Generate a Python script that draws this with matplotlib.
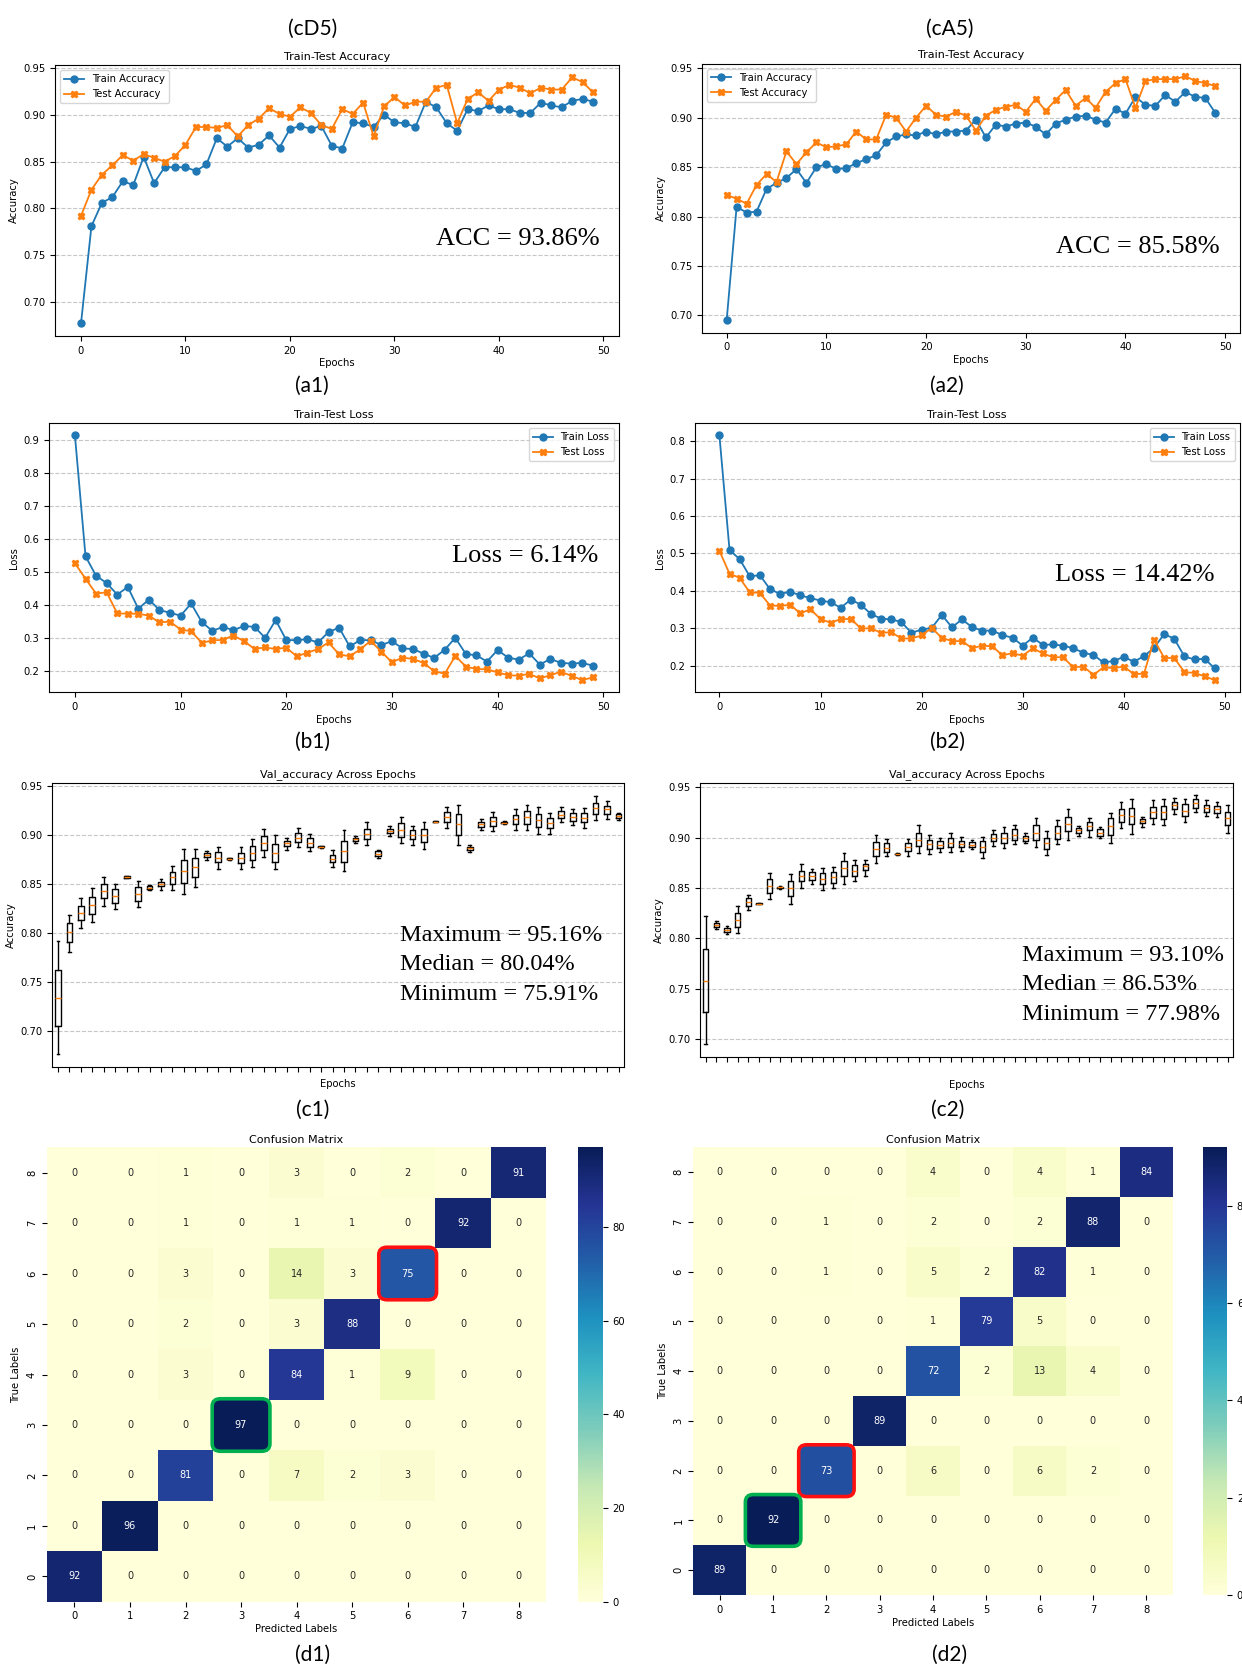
import numpy as np
import matplotlib
matplotlib.use('Agg')
import matplotlib.pyplot as plt
import seaborn as sns
from matplotlib.patches import FancyBboxPatch

# ---- data ----
acc_train_d5 = [0.677, 0.781, 0.806, 0.812, 0.829, 0.825, 0.855, 0.827, 0.844, 0.844,
                0.844, 0.840, 0.847, 0.875, 0.866, 0.875, 0.865, 0.868, 0.878, 0.865,
                0.885, 0.888, 0.885, 0.888, 0.867, 0.864, 0.892, 0.891, 0.887, 0.900,
                0.892, 0.891, 0.887, 0.914, 0.908, 0.891, 0.883, 0.906, 0.904, 0.910,
                0.906, 0.906, 0.902, 0.902, 0.913, 0.910, 0.908, 0.915, 0.917, 0.914]
acc_test_d5 = [0.792, 0.820, 0.836, 0.846, 0.857, 0.851, 0.858, 0.854, 0.850, 0.856,
               0.868, 0.887, 0.887, 0.886, 0.889, 0.877, 0.889, 0.896, 0.907, 0.901,
               0.898, 0.908, 0.902, 0.889, 0.885, 0.906, 0.901, 0.913, 0.877, 0.909,
               0.919, 0.910, 0.914, 0.914, 0.929, 0.932, 0.891, 0.917, 0.924, 0.915,
               0.927, 0.932, 0.929, 0.923, 0.929, 0.927, 0.927, 0.940, 0.935, 0.924]
acc_train_a5 = [0.695, 0.810, 0.804, 0.805, 0.828, 0.834, 0.839, 0.848, 0.834, 0.850,
                0.853, 0.848, 0.849, 0.854, 0.858, 0.862, 0.875, 0.881, 0.883, 0.882,
                0.886, 0.883, 0.886, 0.886, 0.887, 0.898, 0.880, 0.893, 0.891, 0.894,
                0.895, 0.891, 0.883, 0.894, 0.898, 0.901, 0.902, 0.898, 0.895, 0.909,
                0.904, 0.921, 0.913, 0.912, 0.923, 0.916, 0.926, 0.921, 0.920, 0.905]
acc_test_a5 = [0.822, 0.818, 0.813, 0.832, 0.843, 0.835, 0.866, 0.853, 0.865, 0.875,
               0.870, 0.871, 0.873, 0.886, 0.878, 0.878, 0.903, 0.900, 0.886, 0.900,
               0.912, 0.903, 0.901, 0.906, 0.902, 0.887, 0.902, 0.908, 0.911, 0.913,
               0.906, 0.919, 0.907, 0.918, 0.928, 0.912, 0.920, 0.910, 0.926, 0.935,
               0.939, 0.910, 0.937, 0.939, 0.939, 0.939, 0.942, 0.937, 0.935, 0.932]

loss_train_d5 = [0.913, 0.547, 0.488, 0.466, 0.431, 0.454, 0.388, 0.416, 0.384, 0.376,
                 0.367, 0.404, 0.348, 0.321, 0.333, 0.323, 0.336, 0.333, 0.300, 0.354,
                 0.293, 0.293, 0.296, 0.286, 0.317, 0.331, 0.274, 0.293, 0.293, 0.278,
                 0.290, 0.268, 0.266, 0.252, 0.239, 0.264, 0.300, 0.251, 0.247, 0.228,
                 0.263, 0.240, 0.234, 0.253, 0.219, 0.236, 0.224, 0.222, 0.224, 0.216]
loss_test_d5 = [0.526, 0.479, 0.434, 0.438, 0.374, 0.373, 0.373, 0.367, 0.347, 0.349,
                0.325, 0.320, 0.285, 0.292, 0.294, 0.307, 0.290, 0.266, 0.271, 0.266,
                0.270, 0.244, 0.255, 0.266, 0.286, 0.250, 0.244, 0.265, 0.291, 0.258,
                0.226, 0.240, 0.236, 0.224, 0.199, 0.191, 0.245, 0.213, 0.205, 0.205,
                0.195, 0.187, 0.185, 0.191, 0.177, 0.187, 0.197, 0.185, 0.172, 0.180]
loss_train_a5 = [0.815, 0.509, 0.485, 0.439, 0.442, 0.405, 0.392, 0.398, 0.388, 0.381,
                 0.374, 0.370, 0.355, 0.377, 0.363, 0.338, 0.326, 0.324, 0.317, 0.288,
                 0.297, 0.301, 0.336, 0.303, 0.324, 0.303, 0.294, 0.294, 0.282, 0.275,
                 0.254, 0.275, 0.256, 0.257, 0.254, 0.247, 0.235, 0.229, 0.209, 0.213,
                 0.224, 0.211, 0.226, 0.248, 0.285, 0.272, 0.225, 0.217, 0.219, 0.193]
loss_test_a5 = [0.507, 0.446, 0.435, 0.396, 0.395, 0.361, 0.360, 0.363, 0.340, 0.351,
                0.325, 0.315, 0.325, 0.325, 0.300, 0.300, 0.288, 0.290, 0.273, 0.273,
                0.281, 0.301, 0.275, 0.266, 0.266, 0.247, 0.254, 0.252, 0.228, 0.234,
                0.227, 0.247, 0.233, 0.223, 0.223, 0.196, 0.198, 0.176, 0.196, 0.194,
                0.198, 0.178, 0.179, 0.270, 0.221, 0.221, 0.183, 0.181, 0.172, 0.162]

# box plot statistics per epoch (whisker low, q1, median, q3, whisker high)
c1_lo = [0.677, 0.781, 0.805, 0.811, 0.828, 0.825, 0.856, 0.827, 0.844, 0.844,
         0.844, 0.840, 0.847, 0.875, 0.865, 0.875, 0.865, 0.867, 0.878, 0.865,
         0.885, 0.888, 0.884, 0.887, 0.867, 0.863, 0.892, 0.890, 0.877, 0.899,
         0.892, 0.890, 0.886, 0.913, 0.907, 0.890, 0.883, 0.905, 0.904, 0.911,
         0.905, 0.905, 0.901, 0.901, 0.913, 0.910, 0.907, 0.915, 0.916, 0.915]
c1_q1 = [0.706, 0.791, 0.813, 0.820, 0.836, 0.831, 0.856, 0.833, 0.845, 0.848,
         0.850, 0.851, 0.857, 0.878, 0.872, 0.876, 0.871, 0.875, 0.885, 0.873,
         0.889, 0.893, 0.888, 0.888, 0.872, 0.873, 0.894, 0.896, 0.879, 0.902,
         0.898, 0.896, 0.893, 0.913, 0.913, 0.900, 0.885, 0.908, 0.909, 0.912,
         0.911, 0.911, 0.908, 0.907, 0.917, 0.914, 0.913, 0.921, 0.921, 0.917]
c1_med = [0.734, 0.801, 0.821, 0.829, 0.843, 0.838, 0.857, 0.840, 0.846, 0.850,
          0.857, 0.863, 0.867, 0.880, 0.877, 0.876, 0.877, 0.882, 0.892, 0.882,
          0.892, 0.897, 0.892, 0.888, 0.876, 0.884, 0.896, 0.901, 0.881, 0.904,
          0.905, 0.900, 0.900, 0.913, 0.918, 0.911, 0.887, 0.911, 0.914, 0.912,
          0.916, 0.918, 0.915, 0.912, 0.920, 0.918, 0.917, 0.927, 0.926, 0.919]
c1_q3 = [0.763, 0.810, 0.828, 0.837, 0.850, 0.845, 0.858, 0.847, 0.848, 0.852,
         0.862, 0.875, 0.877, 0.882, 0.883, 0.877, 0.882, 0.889, 0.899, 0.891,
         0.894, 0.902, 0.897, 0.889, 0.880, 0.894, 0.897, 0.906, 0.884, 0.906,
         0.912, 0.905, 0.906, 0.914, 0.923, 0.921, 0.888, 0.913, 0.918, 0.913,
         0.920, 0.924, 0.921, 0.917, 0.924, 0.922, 0.922, 0.933, 0.929, 0.921]
c1_hi = [0.792, 0.819, 0.836, 0.846, 0.857, 0.850, 0.858, 0.853, 0.849, 0.855,
         0.868, 0.886, 0.886, 0.884, 0.888, 0.877, 0.888, 0.896, 0.906, 0.900,
         0.897, 0.907, 0.901, 0.889, 0.885, 0.905, 0.899, 0.913, 0.885, 0.909,
         0.918, 0.909, 0.913, 0.914, 0.928, 0.931, 0.890, 0.916, 0.923, 0.914,
         0.926, 0.931, 0.928, 0.922, 0.928, 0.926, 0.927, 0.940, 0.935, 0.922]

c2_lo = [0.695, 0.809, 0.804, 0.805, 0.828, 0.834, 0.839, 0.849, 0.834, 0.850,
         0.854, 0.848, 0.850, 0.854, 0.857, 0.862, 0.875, 0.882, 0.883, 0.882,
         0.885, 0.884, 0.886, 0.886, 0.887, 0.889, 0.880, 0.892, 0.890, 0.894,
         0.895, 0.891, 0.883, 0.894, 0.898, 0.902, 0.901, 0.900, 0.895, 0.909,
         0.904, 0.910, 0.913, 0.912, 0.923, 0.915, 0.925, 0.921, 0.920, 0.905]
c2_q1 = [0.727, 0.811, 0.806, 0.811, 0.832, 0.834, 0.845, 0.850, 0.842, 0.857,
         0.858, 0.854, 0.855, 0.862, 0.862, 0.868, 0.882, 0.886, 0.884, 0.887,
         0.892, 0.889, 0.890, 0.891, 0.891, 0.891, 0.886, 0.897, 0.895, 0.898,
         0.897, 0.898, 0.889, 0.899, 0.906, 0.905, 0.907, 0.902, 0.903, 0.915,
         0.913, 0.914, 0.919, 0.918, 0.928, 0.921, 0.929, 0.925, 0.924, 0.912]
c2_med = [0.758, 0.813, 0.808, 0.818, 0.836, 0.834, 0.852, 0.851, 0.850, 0.862,
          0.862, 0.859, 0.861, 0.870, 0.867, 0.872, 0.889, 0.890, 0.884, 0.891,
          0.898, 0.894, 0.893, 0.895, 0.894, 0.893, 0.891, 0.900, 0.900, 0.903,
          0.900, 0.905, 0.895, 0.905, 0.913, 0.907, 0.911, 0.905, 0.911, 0.922,
          0.921, 0.916, 0.925, 0.925, 0.932, 0.926, 0.934, 0.929, 0.928, 0.919]
c2_q3 = [0.789, 0.815, 0.810, 0.825, 0.840, 0.835, 0.859, 0.851, 0.857, 0.867,
         0.866, 0.865, 0.866, 0.877, 0.873, 0.874, 0.896, 0.895, 0.884, 0.895,
         0.905, 0.898, 0.897, 0.900, 0.897, 0.896, 0.897, 0.904, 0.905, 0.908,
         0.902, 0.912, 0.900, 0.911, 0.920, 0.909, 0.915, 0.908, 0.919, 0.928,
         0.929, 0.918, 0.930, 0.931, 0.935, 0.933, 0.938, 0.932, 0.931, 0.925]
c2_hi = [0.822, 0.817, 0.812, 0.832, 0.843, 0.835, 0.865, 0.852, 0.864, 0.874,
         0.869, 0.870, 0.871, 0.885, 0.878, 0.878, 0.903, 0.899, 0.885, 0.899,
         0.912, 0.903, 0.900, 0.905, 0.901, 0.898, 0.901, 0.907, 0.910, 0.912,
         0.905, 0.919, 0.906, 0.917, 0.928, 0.911, 0.919, 0.910, 0.924, 0.935,
         0.938, 0.920, 0.937, 0.938, 0.939, 0.938, 0.942, 0.937, 0.935, 0.932]

classes = [0, 1, 2, 3, 4, 5, 6, 7, 8]
cm_d5 = [[92, 0, 0, 0, 0, 0, 0, 0, 0],
         [0, 96, 0, 0, 0, 0, 0, 0, 0],
         [0, 0, 81, 0, 7, 2, 3, 0, 0],
         [0, 0, 0, 97, 0, 0, 0, 0, 0],
         [0, 0, 3, 0, 84, 1, 9, 0, 0],
         [0, 0, 2, 0, 3, 88, 0, 0, 0],
         [0, 0, 3, 0, 14, 3, 75, 0, 0],
         [0, 0, 1, 0, 1, 1, 0, 92, 0],
         [0, 0, 1, 0, 3, 0, 2, 0, 91]]
cm_a5 = [[89, 0, 0, 0, 0, 0, 0, 0, 0],
         [0, 92, 0, 0, 0, 0, 0, 0, 0],
         [0, 0, 73, 0, 6, 0, 6, 2, 0],
         [0, 0, 0, 89, 0, 0, 0, 0, 0],
         [0, 0, 0, 0, 72, 2, 13, 4, 0],
         [0, 0, 0, 0, 1, 79, 5, 0, 0],
         [0, 0, 1, 0, 5, 2, 82, 1, 0],
         [0, 0, 1, 0, 2, 0, 2, 88, 0],
         [0, 0, 0, 0, 4, 0, 4, 1, 84]]

W, H = 1242, 1669
fig = plt.figure(figsize=(W / 100, H / 100), dpi=100)
TICK = 7.2
SERIF = 'Liberation Serif'


def line_panel(rect, train, test, title, ylabel, names, loc, note, note_xy):
    ax = fig.add_axes(rect)
    ep = np.arange(len(train))
    ax.plot(ep, train, marker='o', ms=5, lw=1.3, color='C0', label=names[0])
    ax.plot(ep, test, marker='X', ms=5, lw=1.3, color='C1', label=names[1])
    ax.set_title(title, fontsize=8, pad=4)
    ax.set_xlabel('Epochs', fontsize=TICK, labelpad=2)
    ax.set_ylabel(ylabel, fontsize=TICK, labelpad=3)
    ax.tick_params(labelsize=TICK)
    ax.yaxis.grid(True, ls='--', alpha=0.7)
    ax.legend(loc=loc, fontsize=TICK)
    ax.text(note_xy[0], note_xy[1], note, transform=ax.transAxes, ha='right',
            va='baseline', fontsize=19, family=SERIF)
    return ax


def box_panel(rect, lo, q1, med, q3, hi, lines, x0, ys, xpad):
    ax = fig.add_axes(rect)
    stats = [dict(whislo=a, q1=b, med=c, q3=d, whishi=e, fliers=[])
             for a, b, c, d, e in zip(lo, q1, med, q3, hi)]
    ax.bxp(stats, positions=np.arange(1, len(stats) + 1), showfliers=False)
    ax.set_xticklabels([])
    ax.set_title('Val_accuracy Across Epochs', fontsize=8, pad=4)
    ax.set_xlabel('Epochs', fontsize=TICK, labelpad=xpad)
    ax.set_ylabel('Accuracy', fontsize=TICK, labelpad=3)
    ax.tick_params(labelsize=TICK)
    ax.yaxis.grid(True, ls='--', alpha=0.7)
    for txt, y in zip(lines, ys):
        ax.text(x0, y, txt, transform=ax.transAxes, ha='left', va='baseline',
                fontsize=17.5, family=SERIF)
    return ax


def cm_panel(rect, crect, cm, red, green):
    ax = fig.add_axes(rect)
    cax = fig.add_axes(crect)
    sns.heatmap(np.array(cm), annot=True, fmt='d', cmap='YlGnBu', ax=ax, cbar_ax=cax,
                xticklabels=classes, yticklabels=classes, annot_kws={'size': 7})
    ax.invert_yaxis()
    ax.set_title('Confusion Matrix', fontsize=8, pad=3)
    ax.set_xlabel('Predicted Labels', fontsize=TICK, labelpad=2)
    ax.set_ylabel('True Labels', fontsize=TICK)
    ax.tick_params(labelsize=TICK)
    cax.tick_params(labelsize=TICK)
    cax.set_yticks([0, 20, 40, 60, 80])
    for (c, col) in [(red, '#ff1010'), (green, '#00b050')]:
        ax.add_patch(FancyBboxPatch((c + 0.02, c + 0.02), 0.96, 0.96,
                                    boxstyle='round,pad=0.04,rounding_size=0.15',
                                    fill=False, ec=col, lw=2.6, clip_on=False, zorder=5))
    return ax


line_panel([0.0446, 0.7988, 0.4535, 0.1622], acc_train_d5, acc_test_d5,
           'Train-Test Accuracy', 'Accuracy', ['Train Accuracy', 'Test Accuracy'],
           'upper left', 'ACC = 93.86%', (0.967, 0.337))
line_panel([0.5654, 0.8007, 0.4327, 0.1610], acc_train_a5, acc_test_a5,
           'Train-Test Accuracy', 'Accuracy', ['Train Accuracy', 'Test Accuracy'],
           'upper left', 'ACC = 85.58%', (0.962, 0.298))
line_panel([0.0395, 0.5852, 0.4585, 0.1612], loss_train_d5, loss_test_d5,
           'Train-Test Loss', 'Loss', ['Train Loss', 'Test Loss'],
           'upper right', 'Loss = 6.14%', (0.965, 0.484))
line_panel([0.5593, 0.5852, 0.4387, 0.1612], loss_train_a5, loss_test_a5,
           'Train-Test Loss', 'Loss', ['Train Loss', 'Test Loss'],
           'upper right', 'Loss = 14.42%', (0.955, 0.414))

box_panel([0.0421, 0.3607, 0.4605, 0.1703], c1_lo, c1_q1, c1_med, c1_q3, c1_hi,
          ['Maximum = 95.16%', 'Median = 80.04%', 'Minimum = 75.91%'],
          0.608, [0.442, 0.340, 0.235], 2)
box_panel([0.5638, 0.3669, 0.4290, 0.1641], c2_lo, c2_q1, c2_med, c2_q3, c2_hi,
          ['Maximum = 93.10%', 'Median = 86.53%', 'Minimum = 77.98%'],
          0.604, [0.348, 0.244, 0.133], 10)

cm_panel([0.0376, 0.0403, 0.4024, 0.2723], [0.4655, 0.0403, 0.0198, 0.2723], cm_d5, 6, 3)
cm_panel([0.5581, 0.0443, 0.3862, 0.2683], [0.9688, 0.0443, 0.0192, 0.2683], cm_a5, 2, 1)

# sub-figure labels
labels = [('(cD5)', 313, 29), ('(cA5)', 950, 29),
          ('(a1)', 312, 386), ('(a2)', 947, 386),
          ('(b1)', 312, 742), ('(b2)', 947, 742),
          ('(c1)', 313, 1110), ('(c2)', 948, 1110),
          ('(d1)', 313, 1655), ('(d2)', 950, 1655)]
for txt, x, y in labels:
    fig.text(x / W, 1 - y / H, txt, ha='center', va='center', fontsize=15, family='Lato')

plt.savefig('out.png', dpi=100)
